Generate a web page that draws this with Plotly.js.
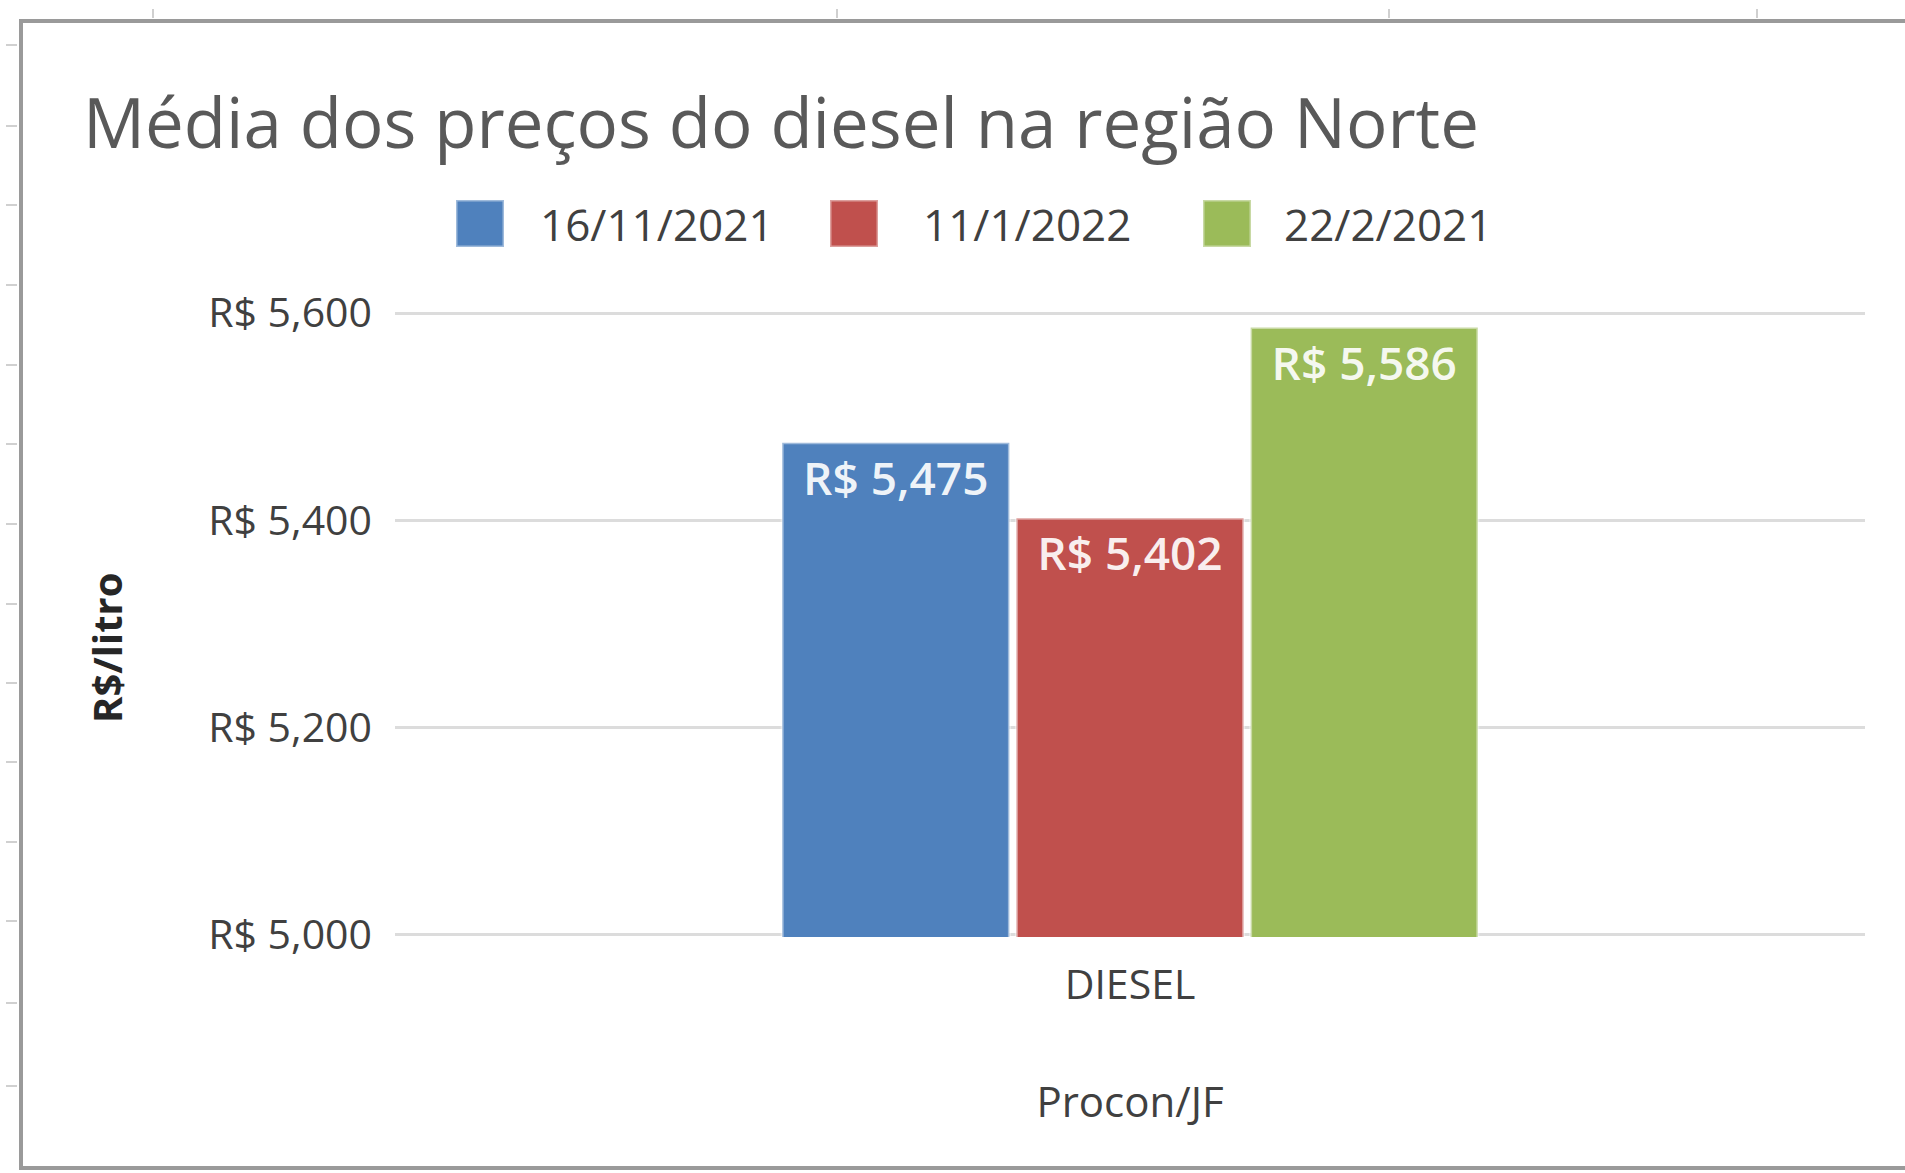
<!DOCTYPE html>
<html>
<head>
<meta charset="utf-8">
<script src="https://cdn.plot.ly/plotly-3.0.1.min.js"></script>
<style>
html, body { margin: 0; padding: 0; background: #ffffff; }
#chart { width: 1905px; height: 1173px; }
</style>
</head>
<body>
<div id="chart"></div>
<script>
// ---- data ----
const categories = ['DIESEL'];
const seriesNames = ['16/11/2021', '11/1/2022', '22/2/2021'];
const values_16_11_2021 = [5.475];
const values_11_1_2022 = [5.402];
const values_22_2_2021 = [5.586];
const yTickValues = [5.0, 5.2, 5.4, 5.6];
const chartTitle = 'Média dos preços do diesel na região Norte';
const yAxisTitle = 'R$/litro';
const xAxisTitle = 'Procon/JF';

// ---- layout / style ----
const W = 1905, H = 1173;
const M = { l: 395, r: 40, t: 311, b: 236 };
const PW = W - M.l - M.r, PH = H - M.t - M.b;
const px = x => (x - M.l) / PW;
const py = y => (H - M.b - y) / PH;

const colors = ['#4F81BD', '#C0504D', '#9BBB59'];
const FONT = '"Open Sans", "Noto Sans", sans-serif';
const seriesValues = [values_16_11_2021, values_11_1_2022, values_22_2_2021];
const fmtBRL = v => 'R$ ' + v.toFixed(3).replace('.', ',');

const traces = seriesNames.map((name, i) => ({
  type: 'bar',
  name: name,
  x: categories,
  y: seriesValues[i],
  marker: { color: colors[i], line: { color: 'rgba(255,255,255,0.45)', width: 3 } },
  texttemplate: 'R$ %{y:.3f}',
  textposition: 'inside',
  insidetextanchor: 'end',
  textangle: 0,
  textfont: { family: FONT, size: 46, color: 'rgba(255,255,255,0.92)', weight: 600 },
  hoverinfo: 'skip',
  showlegend: false
}));

const shapes = [];
const annotations = [];

// outer frame (spreadsheet chart border)
shapes.push({ type: 'rect', xref: 'paper', yref: 'paper',
  x0: px(21), x1: px(1915), y0: py(21), y1: py(1168),
  line: { color: '#9a9a9a', width: 4 }, fillcolor: 'rgba(0,0,0,0)', layer: 'below' });
// spreadsheet grid marks outside frame
[153, 837, 1389, 1757].forEach(x => shapes.push({ type: 'line', xref: 'paper', yref: 'paper',
  x0: px(x), x1: px(x), y0: py(9), y1: py(18), line: { color: '#d0d0d0', width: 2 } }));
[45, 126, 205, 285, 365, 444, 524, 604, 683, 762, 842, 921, 1003, 1086].forEach(y => shapes.push({ type: 'line', xref: 'paper', yref: 'paper',
  x0: px(6), x1: px(17), y0: py(y), y1: py(y), line: { color: '#d0d0d0', width: 2 } }));

// legend (drawn manually for large swatches)
const legendSwatchX = [456, 830, 1203];
const legendTextX = [538, 921, 1282];
seriesNames.forEach((name, i) => {
  const x0 = legendSwatchX[i];
  shapes.push({ type: 'rect', xref: 'paper', yref: 'paper',
    x0: px(x0), x1: px(x0 + 48), y0: py(247), y1: py(200),
    fillcolor: colors[i], line: { color: 'rgba(255,255,255,0.45)', width: 3 } });
  annotations.push({ xref: 'paper', yref: 'paper', x: px(legendTextX[i]), y: py(224),
    xanchor: 'left', yanchor: 'middle', showarrow: false, text: name,
    font: { family: FONT, size: 44, color: '#404040' } });
});

// y-axis title
annotations.push({ xref: 'paper', yref: 'paper', x: px(106), y: py(648),
  xanchor: 'center', yanchor: 'middle', showarrow: false, textangle: -90,
  text: yAxisTitle, font: { family: FONT, size: 40, color: '#262626', weight: 700 } });

const layout = {
  width: W, height: H,
  margin: M,
  paper_bgcolor: '#ffffff',
  plot_bgcolor: '#ffffff',
  separators: ',.',
  font: { family: FONT, color: '#404040' },
  title: {
    text: chartTitle,
    x: 83 / W, xref: 'container', xanchor: 'left',
    y: 1 - 124 / H, yref: 'container', yanchor: 'middle',
    font: { family: FONT, size: 69, color: '#595959' }
  },
  barmode: 'group',
  bargap: 0.522,
  bargroupgap: 0.03,
  xaxis: {
    type: 'category',
    showgrid: false, zeroline: false, showline: false,
    ticks: '', ticklabelstandoff: 20,
    tickfont: { family: FONT, size: 41, color: '#404040' },
    title: { text: xAxisTitle, standoff: 77, font: { family: FONT, size: 42, color: '#404040' } }
  },
  yaxis: {
    range: [4.998, 5.602],
    tickvals: yTickValues,
    ticktext: yTickValues.map(fmtBRL),
    showgrid: true, gridcolor: '#dcdcdc', gridwidth: 3,
    zeroline: false, showline: false, ticks: '',
    ticklabelstandoff: 22,
    tickfont: { family: FONT, size: 41, color: '#404040' }
  },
  shapes: shapes,
  annotations: annotations
};

Plotly.newPlot('chart', traces, layout, { displayModeBar: false, staticPlot: true });
</script>
</body>
</html>
